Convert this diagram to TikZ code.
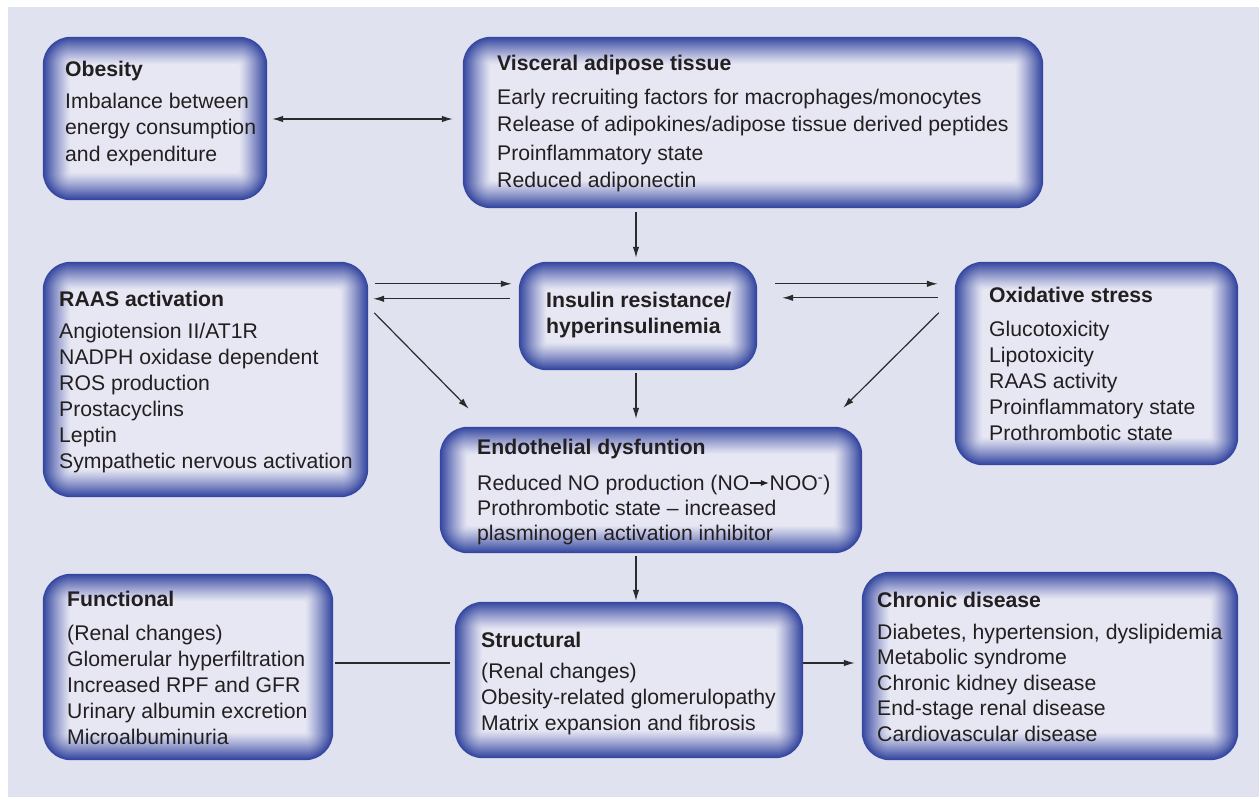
\documentclass[tikz,border=0pt]{standalone}
\usepackage{fontspec}
\setmainfont{Liberation Sans}
\usetikzlibrary{arrows.meta,calc,backgrounds,fit}
\definecolor{bg}{HTML}{E0E2F0}
\definecolor{boxdark}{HTML}{3446A0}
\definecolor{boxlight}{HTML}{EAEAF5}
\definecolor{ink}{HTML}{231F20}
\definecolor{arr}{HTML}{2B2B2B}
\tikzset{
  box/.style={draw=none, inner sep=0pt, rectangle},
  txt/.style={anchor=base west, inner sep=0pt, text=ink, align=left, font=\fontsize{21.2}{26}\selectfont},
  ttl/.style={txt, font=\fontsize{21.2}{26}\selectfont\bfseries},
  conn/.style={draw=arr, line width=1.2pt},
  tip/.style={-{Latex[length=11pt,width=6.5pt]}},
  tipboth/.style={{Latex[length=11pt,width=6.5pt]}-{Latex[length=11pt,width=6.5pt]}},
}
\newcommand\glowbox[1]{%
  \foreach \i in {0,...,27}{%
    \pgfmathsetmacro\pc{100*(1-\i/28)^1.15}%
    \pgfmathsetmacro\rr{max(28-\i,4)}%
    \fill[boxdark!\pc!boxlight, rounded corners=\rr pt]
      ($(#1.south west)+(\i pt,\i pt)$) rectangle ($(#1.north east)+(-\i pt,-\i pt)$);
  }%
}
\newcommand\noarrow{\tikz[baseline=-0.33em]\draw[draw=ink,line width=1.2pt,-{Latex[length=8pt,width=6pt]}] (0pt,0pt)--(19pt,0pt);}
\begin{document}
\begin{tikzpicture}[x=1pt,y=-1pt]
\useasboundingbox (0,0) rectangle (1259,797);

% boxes
\node[box, fit={(43,37) (267,200)}] (obesity) {};
\node[box, fit={(463,37) (1043,208)}] (visceral) {};
\node[box, fit={(43,262) (368,497)}] (raas) {};
\node[box, fit={(519,262) (757,370)}] (insulin) {};
\node[box, fit={(955,262) (1238,465)}] (oxid) {};
\node[box, fit={(440,427) (862,553)}] (endo) {};
\node[box, fit={(43,574) (333,760)}] (func) {};
\node[box, fit={(455,602) (803,758)}] (struct) {};
\node[box, fit={(862,572) (1238,760)}] (chronic) {};

\begin{scope}[on background layer]
\fill[white] (0,0) rectangle (1259,797);
\fill[bg] (8,7) rectangle (1259,797);
\glowbox{obesity}\glowbox{visceral}\glowbox{raas}\glowbox{insulin}\glowbox{oxid}
\glowbox{endo}\glowbox{func}\glowbox{struct}\glowbox{chronic}
\end{scope}

% texts (multi-line nodes: base = last line)
\node[ttl] (obT) at (65,77) {Obesity};
\node[txt] (obB) at (65,161) {Imbalance between\\energy consumption\\and expenditure};

\node[ttl] (viT) at (497,71) {Visceral adipose tissue};
\node[txt, font=\fontsize{21.2}{28}\selectfont] (viB) at (497,188) {Early recruiting factors for macrophages/monocytes\\Release of adipokines/adipose tissue derived peptides\\Proinflammatory state\\Reduced adiponectin};

\node[ttl] (raT) at (59,306) {RAAS activation};
\node[txt] (raB) at (59,468) {Angiotension II/AT1R\\NADPH oxidase dependent\\ROS production\\Prostacyclins\\Leptin\\Sympathetic nervous activation};

\node[ttl] (inT) at (546,333) {Insulin resistance/\\hyperinsulinemia};

\node[ttl] (oxT) at (989,302) {Oxidative stress};
\node[txt, font=\fontsize{21.2}{25.8}\selectfont] (oxB) at (989,440) {Glucotoxicity\\Lipotoxicity\\RAAS activity\\Proinflammatory state\\Prothrombotic state};

\node[ttl] (enT) at (477,454) {Endothelial dysfuntion};
\node[txt, font=\fontsize{21.2}{25}\selectfont] (enB) at (477,540) {Reduced NO production (NO\noarrow NOO\textsuperscript{-})\\Prothrombotic state -- increased\\plasminogen activation inhibitor};

\node[ttl] (fuT) at (67,606) {Functional};
\node[txt, font=\fontsize{21.2}{25.8}\selectfont] (fuB) at (67,744) {(Renal changes)\\Glomerular hyperfiltration\\Increased RPF and GFR\\Urinary albumin excretion\\Microalbuminuria};

\node[ttl] (stT) at (481,647) {Structural};
\node[txt] (stB) at (481,730) {(Renal changes)\\Obesity-related glomerulopathy\\Matrix expansion and fibrosis};

\node[ttl] (chT) at (877,607) {Chronic disease};
\node[txt, font=\fontsize{21.2}{25.5}\selectfont] (chB) at (877,741) {Diabetes, hypertension, dyslipidemia\\Metabolic syndrome\\Chronic kidney disease\\End-stage renal disease\\Cardiovascular disease};

% connectors
\draw[conn,tipboth] ($(obesity.east)+(5,0.5)$) -- ($(obesity.east -| visceral.west)+(-10,0.5)$);
\draw[conn,tip] ($(insulin.north |- visceral.south)+(-2,4)$) -- ($(insulin.north)+(-2,-4)$);
\draw[conn,tip] ($(raas.north east)+(7,22)$) -- ($(insulin.north west)+(-7,22)$);
\draw[conn,tip] ($(insulin.north west)+(-9,37)$) -- ($(raas.north east)+(5,37)$);
\draw[conn,tip] ($(raas.north east)+(6,51)$) -- ($(endo.north west)+(29,-18)$);
\draw[conn,tip] ($(insulin.north east)+(18,22)$) -- ($(oxid.north west)+(-17,22)$);
\draw[conn,tip] ($(oxid.north west)+(-17,36)$) -- ($(insulin.north east)+(25,36)$);
\draw[conn,tip] ($(oxid.north west)+(-16,51)$) -- ($(endo.north east)+(-19,-19)$);
\draw[conn,tip] ($(insulin.south)+(-2,3)$) -- ($(insulin.south |- endo.north)+(-2,-8)$);
\draw[conn,tip] ($(endo.south)+(-15,3)$) -- ($(endo.south |- struct.north)+(-15,-1)$);
\draw[conn] ($(func.east)+(2,-4)$) -- ($(struct.west)+(-5,-17)$);
\draw[conn,tip] ($(struct.east)+(0,-17)$) -- ($(chronic.west)+(-7,-3)$);
\end{tikzpicture}
\end{document}
